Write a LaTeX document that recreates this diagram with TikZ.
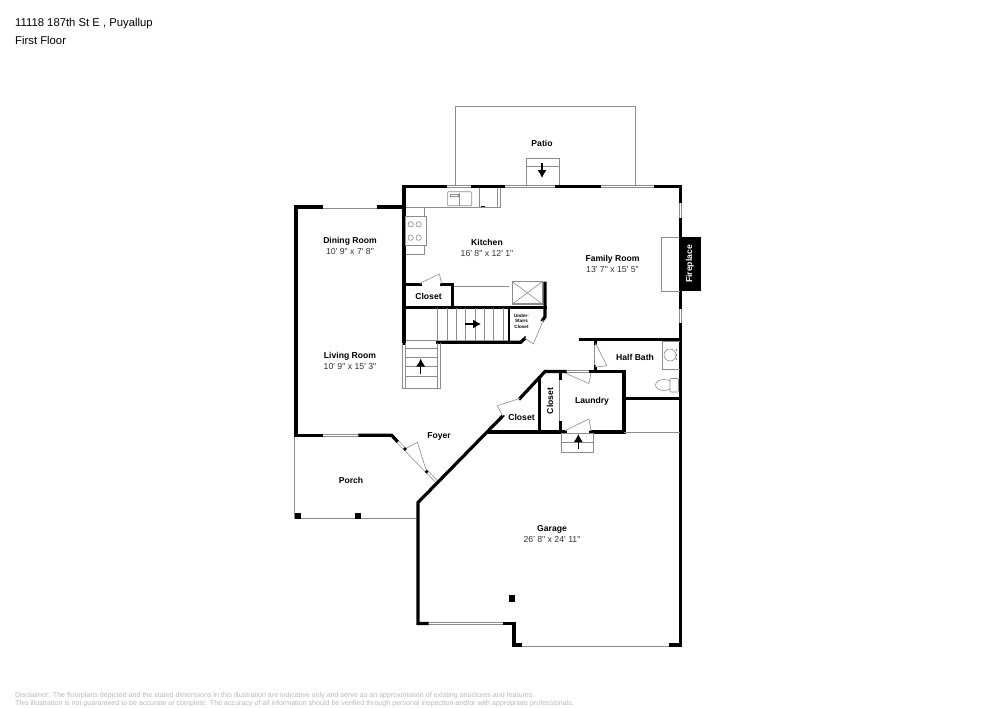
\documentclass[tikz,border=0pt]{standalone}
\usepackage{fontspec}
\newfontfamily\planfont{Liberation Sans}
\usetikzlibrary{arrows.meta}
\definecolor{thingrey}{gray}{0.55}
\definecolor{notegrey}{gray}{0.72}
\begin{document}
\begin{tikzpicture}
[x=1pt,y=-1pt,
wl/.style={line width=3.2pt,line cap=rect,line join=miter,black},
thinw/.style={line width=2pt,black},
gl/.style={line width=.6pt,thingrey},
wn/.style={line width=.7pt,thingrey,double=white,double distance=1.6pt},
sw/.style={line width=.6pt,thingrey,fill=white},
ar/.style={-{Latex[length=8pt,width=9pt]},line width=1.1pt},
no/.style={font=\planfont\bfseries\fontsize{8.6}{10}\selectfont,inner sep=0pt},
di/.style={font=\planfont\fontsize{8.7}{10}\selectfont,inner sep=0pt,text=black!80},
hd/.style={font=\planfont\fontsize{11.3}{13}\selectfont,inner sep=0pt,anchor=west},
nt/.style={font=\planfont\fontsize{7.1}{9}\selectfont,inner sep=0pt,anchor=west,text=notegrey},
po/.style={fill=black}]
\useasboundingbox (0,0) rectangle (1000,707);

% patio and porch
\draw [gl] (455.7,186) -- (455.7,106.7) -- (635,106.7) -- (635,186);
\draw [gl] (526,186) -- (526,158.3) -- (559.7,158.3) -- (559.7,186);
\draw [gl] (526,166.7) -- (559.7,166.7);
\draw [gl] (294.5,436) -- (294.5,518.3) -- (418,518.3);
\fill [po] (294.7,512.7) rectangle (300.7,518.7);
\fill [po] (355.3,512.7) rectangle (361.3,518.7);

% windows
\draw [wn] (445,186.5) -- (473,186.5);
\draw [wn] (503,186.5) -- (535,186.5);
\draw [wn] (527,186.5) -- (557,186.5);
\draw [wn] (599,186.5) -- (656,186.5);
\draw [wn] (321,207) -- (379,207);
\draw [wn] (680.3,201) -- (680.3,220);
\draw [wn] (680.3,307) -- (680.3,325);
\draw [wn] (321,435.3) -- (360,435.3);
\draw [wn] (427,623.5) -- (505,623.5);
\draw [wn] (520,645) -- (671,645);
\draw [wn] (560.7,378) -- (560.7,423);
\draw [wn] (595.7,343) -- (595.7,367);
\draw [wn] (565,371.5) -- (591,371.5);
\draw [wn] (565,432) -- (591,432);
\draw [wn] (396.7,440.7) -- (436,481);

% outer walls
\draw [wl] (445,186.5) -- (404,186.5) -- (404,207) -- (379,207);
\draw [wl] (321,207) -- (296,207) -- (296,435.3) -- (321,435.3);
\draw [wl] (473,186.5) -- (503,186.5);
\draw [wl] (557,186.5) -- (599,186.5);
\draw [wl] (656,186.5) -- (680.3,186.5) -- (680.3,201);
\draw [wl] (680.3,220) -- (680.3,307);
\draw [wl] (680.3,325) -- (680.3,645) -- (671,645);
\draw [wl] (520,645) -- (514,645) -- (514,623.5) -- (505,623.5);
\draw [wl] (427,623.5) -- (418,623.5) -- (418,502.5) -- (502.7,416);
\draw [wl] (520,398.3) -- (545,371.5) -- (565,371.5);
\draw [wl] (360,435.3) -- (391.7,435.3) -- (396.7,440.7);
\draw [wl] (404,207) -- (404,343);

% inner walls
\draw [wl] (420,284.7) -- (404,284.7);
\draw [wl] (441.7,284.7) -- (452.7,284.7) -- (452.7,307.3);
\draw [wl] (404,307.3) -- (545,307.3);
\draw [wl] (545,283.3) -- (545,316.7) -- (542.7,320);
\draw [wl] (525,338.3) -- (520.7,342.3) -- (437.7,342.3);
\draw [thinw] (509.3,307.3) -- (509.3,342.3);
\draw [wl] (581,339.5) -- (680.3,339.5);
\draw [wl] (595.7,339.5) -- (595.7,343);
\draw [wl] (595.7,367) -- (595.7,371.5);
\draw [wl] (591,371.5) -- (624,371.5) -- (624,432) -- (591,432);
\draw [wl] (565,432) -- (490,432);
\draw [wl] (624,398.5) -- (680.3,398.5);
\draw [wl] (539.3,377.5) -- (539.3,432);
\draw [wl] (560.7,371.5) -- (560.7,378);
\draw [wl] (560.7,423) -- (560.7,432);
\draw [gl] (624,432.3) -- (680,432.3);

% door swings
\draw [sw] (420,283.3) -- (439.3,274) -- (441.7,283.3);
\draw [sw] (543.3,320) -- (533.3,344) -- (525,338.3);
\draw [sw] (595.7,343.5) -- (606.7,365.7) -- (595.7,367);
\draw [sw] (565,373) -- (589,383.5) -- (591,373);
\draw [sw] (565,430.5) -- (589,419) -- (591,430.5);
\draw [sw] (520,398.3) -- (497.3,405.7) -- (502.7,416);
\draw [sw] (405,449) -- (417.3,442.3) -- (426.7,471.7);
\fill (405,449) circle (1.8);
\fill (426.7,471.7) circle (1.8);

% kitchen
\draw [gl] (405.7,207.3) -- (500,207.3) -- (500,188);
\draw [gl] (497,188) -- (497,207.3);
\draw [gl] (479,188) -- (479,207.3);
\draw [gl] (424.3,207.3) -- (424.3,254.3) -- (405.7,254.3);
\draw [gl,fill=white] (405.7,216.3) rectangle (426.7,245);
\draw [gl] (410.7,224.3) circle (2.7);
\draw [gl] (418.7,224.3) circle (2.7);
\draw [gl] (410.7,237.7) circle (2.7);
\draw [gl] (418.7,237.7) circle (2.7);
\draw [gl,rounded corners=1pt] (447.3,191.7) rectangle (471.7,205.7);
\draw [gl] (459.3,193) -- (459.3,205.7);
\draw [gl] (450,194) -- (458,194) -- (458,196) -- (450,196) -- cycle;
\fill (481,206) rectangle (485,207.3);
\draw [gl] (454.3,286.7) -- (509.3,286.7);
\draw [gl,line width=1.3pt] (512.3,281.7) rectangle (542.3,304);
\draw [gl] (512.3,281.7) -- (542.3,304);
\draw [gl] (512.3,304) -- (542.3,281.7);

% stairs
\foreach \x in {437.7,447,456.3,465.7,475,484.3,493.7,503} \draw [gl] (\x,308) -- (\x,341);
\draw [gl] (402.5,343) -- (402.5,388.3) -- (440,388.3) -- (440,343);
\draw [gl] (405.5,343) -- (405.5,388.3);
\draw [gl] (437.7,343) -- (437.7,388.3);
\foreach \y in {340,348.3,357.3,366.7,376.7} \draw [gl] (405.5,\y) -- (437.7,\y);

% garage step
\draw [gl] (561.7,433) rectangle (593,452.3);
\draw [gl] (561.7,442.3) -- (593,442.3);
\fill (509,595) rectangle (515.3,601.5);

% half bath
\draw [gl] (680,341) -- (662.7,341) -- (662.7,369) -- (680,369);
\draw [gl] (670,355) ellipse (6 and 6);
\foreach \y in {350,355,359} \fill (676.5,\y) circle (.7);
\draw [gl] (664,385) ellipse (8.5 and 5.5);
\draw [gl,fill=white,rounded corners=1pt] (670,378.5) rectangle (678.5,392);

% fireplace
\draw [gl] (680,237) -- (661.7,237) -- (661.7,291) -- (680,291);
\fill (679,237) rectangle (701,291);

% arrows
\coordinate (patioa) at (542,162.7);
\coordinate (patiob) at (542,178);
\coordinate (upa) at (465,324);
\coordinate (upb) at (481,324);
\coordinate (lowa) at (420.7,374);
\coordinate (lowb) at (420.7,358.5);
\coordinate (stepa) at (578.3,449);
\coordinate (stepb) at (578.3,434);
\draw [ar] (patioa) -- (patiob);
\draw [ar] (upa) -- (upb);
\draw [ar] (lowa) -- (lowb);
\draw [ar] (stepa) -- (stepb);

% labels
\node [hd] at (15,23.5) (title) {11118 187th St E , Puyallup};
\node [hd] at (15,40.5) (floor) {First Floor};
\node [no] at (542,143.5) (patio) {Patio};
\node [no] at (350,241.5) (dining) {Dining Room};
\node [di] at (350,251.5) (diningd) {10' 9" x 7' 8"};
\node [no] at (487,242.5) (kitchen) {Kitchen};
\node [di] at (487,253) (kitchend) {16' 8" x 12' 1"};
\node [no] at (612.5,259) (family) {Family Room};
\node [di] at (612.5,269) (familyd) {13' 7" x 15' 5"};
\node [no] at (350,356.5) (living) {Living Room};
\node [di] at (350,366.5) (livingd) {10' 9" x 15' 3"};
\node [no] at (428.5,296.5) (closeta) {Closet};
\node [font=\planfont\bfseries\fontsize{4.6}{5.6}\selectfont,align=center,inner sep=0pt] at (521.5,321) (under) {Under-\\Stairs\\Closet};
\node [no] at (635,357.5) (halfbath) {Half Bath};
\node [no,text=white,rotate=90] at (690,264) (fireplace) {Fireplace};
\node [no,rotate=90] at (550,401) (closetb) {Closet};
\node [no] at (592,401.5) (laundry) {Laundry};
\node [no] at (521.5,417) (closetc) {Closet};
\node [no] at (439,436.5) (foyer) {Foyer};
\node [no] at (351,480.5) (porch) {Porch};
\node [no] at (552,529.5) (garage) {Garage};
\node [di] at (552,539.5) (garaged) {26' 8" x 24' 11"};
\node [nt] at (15,696) (notea) {Disclaimer: The floorplans depicted and the stated dimensions in this illustration are indicative only and serve as an approximation of existing structures and features.};
\node [nt] at (15,703.3) (noteb) {This illustration is not guaranteed to be accurate or complete. The accuracy of all information should be verified through personal inspection and/or with appropriate professionals.};
\end{tikzpicture}
\end{document}
